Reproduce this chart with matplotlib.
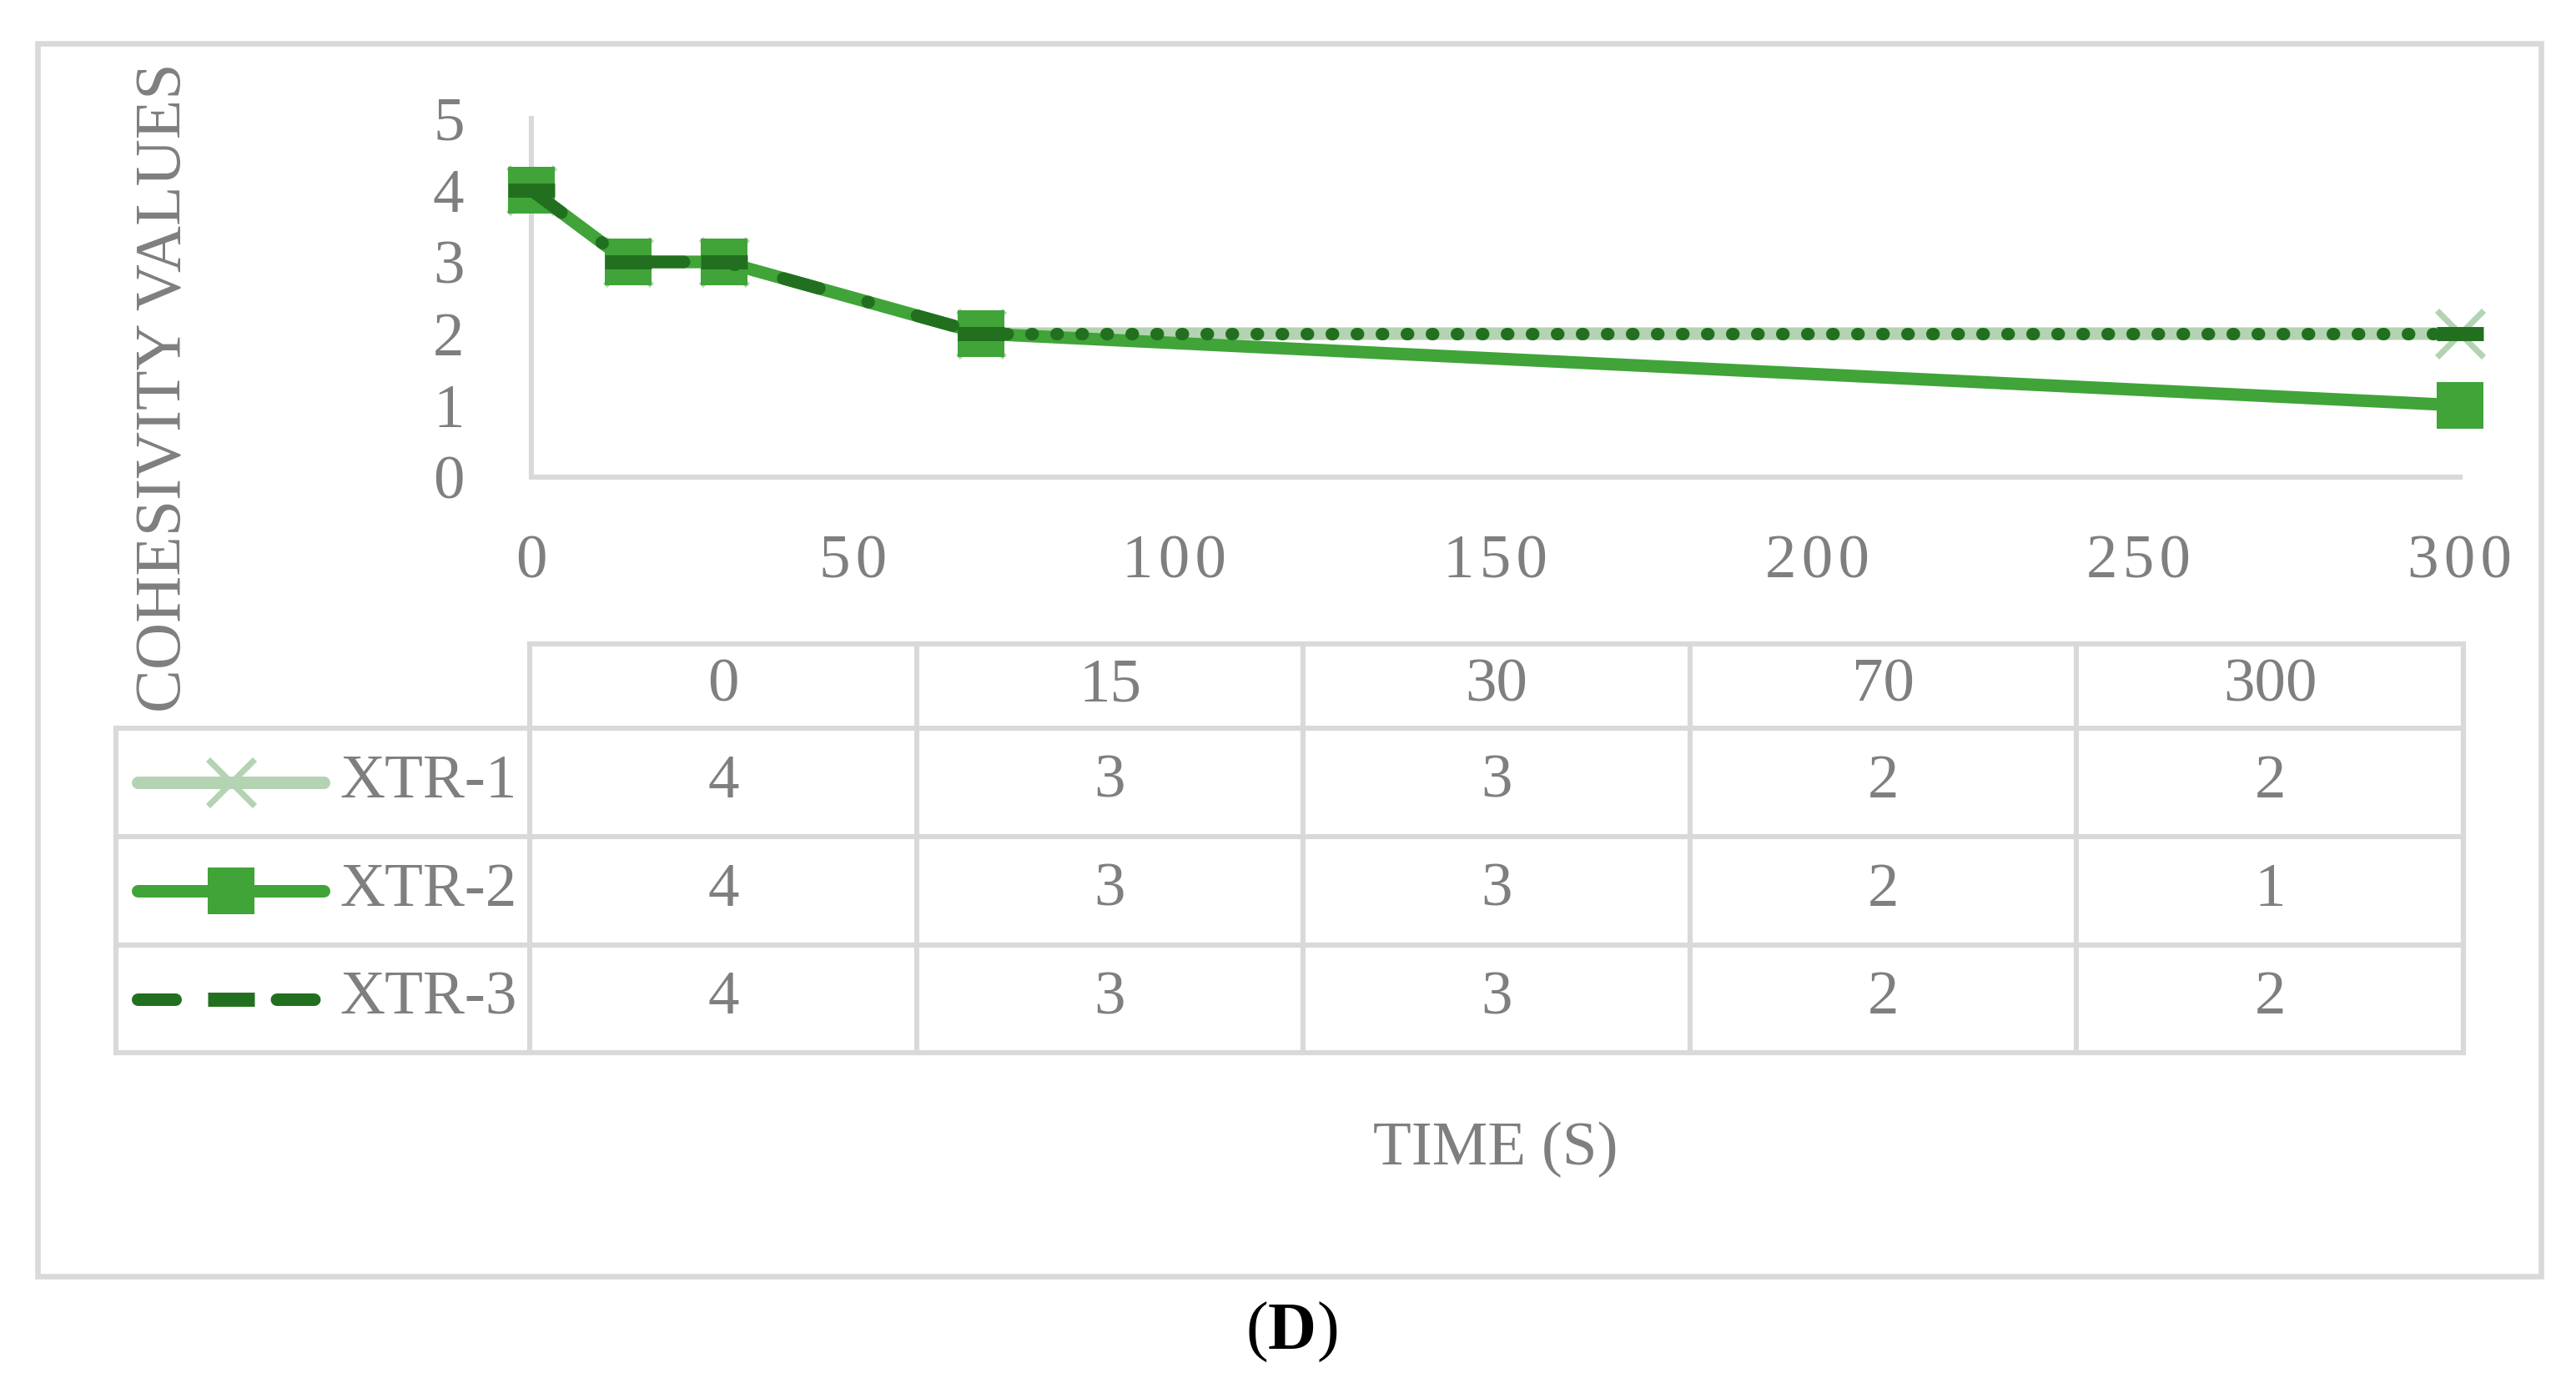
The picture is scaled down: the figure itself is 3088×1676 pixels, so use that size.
import matplotlib
matplotlib.use("Agg")
import matplotlib.pyplot as plt
from matplotlib.lines import Line2D
from matplotlib.patches import Rectangle

# data
time_s = [0, 15, 30, 70, 300]
xtr1 = [4, 3, 3, 2, 2]
xtr2 = [4, 3, 3, 2, 1]
xtr3 = [4, 3, 3, 2, 2]
series_names = ["XTR-1", "XTR-2", "XTR-3"]
y_ticks = [0, 1, 2, 3, 4, 5]
x_ticks = [0, 50, 100, 150, 200, 250, 300]

W, H = 3088, 1676
DPI = 200

c1 = "#b4d3b2"
c2 = "#40a439"
c3 = "#22701f"
grey_txt = "#7f7f7f"
grey_line = "#d9d9d9"

plt.rcParams["font.family"] = ["Liberation Serif", "DejaVu Serif"]


def fx(px):
    return px / W


def fy(py):
    return 1 - py / H


fig = plt.figure(figsize=(W / DPI, H / DPI), dpi=DPI)
fig.patch.set_facecolor("white")

lw = 5.4
style1 = dict(color=c1, lw=lw, solid_capstyle="round", marker="x", ms=20, mew=2.6)
style2 = dict(color=c2, lw=lw, solid_capstyle="round", marker="s", ms=20, mew=0, mfc=c2)
style3 = dict(color=c3, lw=lw, dash_capstyle="round", ls=(0, (3, 4, 0.1, 4)),
              marker="_", ms=20, mew=6.1)

ax = fig.add_axes([fx(637), fy(572), fx(2949) - fx(637), fy(142) - fy(572)])
ax.plot(time_s, xtr1, clip_on=False, zorder=3, **style1)
ax.plot(time_s, xtr2, clip_on=False, zorder=4, **style2)
ax.plot(time_s[:4], xtr3[:4], clip_on=False, zorder=5, **style3)
ax.plot(time_s[3:], xtr3[3:], clip_on=False, zorder=5, color=c3, lw=lw,
        dash_capstyle="round", ls=(0, (0.1, 1.9)), marker="_", ms=20, mew=6.1)

ax.set_xlim(0, 300)
ax.set_ylim(0, 5)
ax.set_xticks(x_ticks)
# the x axis numbers are a little letter-spaced in the original
ax.set_xticklabels(["\u200a".join(str(t)) for t in x_ticks])
ax.set_yticks(y_ticks)
ax.tick_params(axis="both", length=0, labelsize=27, labelcolor=grey_txt)
ax.tick_params(axis="y", pad=29)
ax.tick_params(axis="x", pad=25)
for s in ["top", "right"]:
    ax.spines[s].set_visible(False)
for s in ["left", "bottom"]:
    ax.spines[s].set_color(grey_line)
    ax.spines[s].set_linewidth(2.2)
ax.set_facecolor("none")


def fline(x0, x1, y0, y1):
    fig.add_artist(Line2D([fx(x0), fx(x1)], [fy(y0), fy(y1)], transform=fig.transFigure,
                          color=grey_line, lw=2.2, solid_capstyle="projecting"))


# outer frame
fig.add_artist(Rectangle((fx(45), fy(1530)), fx(3046) - fx(45), fy(52) - fy(1530),
                         transform=fig.transFigure, fill=False, edgecolor=grey_line, lw=2.4))

# data table under the chart
tab_left, tab_mid, tab_right = 139, 635, 2953
row_y = [772, 873, 1003, 1133, 1262]
ncol = len(time_s)
col_x = [tab_mid + i * (tab_right - tab_mid) / ncol for i in range(ncol + 1)]

fline(tab_mid, tab_right, row_y[0], row_y[0])
for y in row_y[1:]:
    fline(tab_left, tab_right, y, y)
fline(tab_left, tab_left, row_y[1], row_y[-1])
for x in col_x:
    fline(x, x, row_y[0], row_y[-1])

for i, t in enumerate(time_s):
    cx = (col_x[i] + col_x[i + 1]) / 2
    fig.text(fx(cx), fy((row_y[0] + row_y[1]) / 2), str(t), ha="center", va="center",
             fontsize=27, color=grey_txt)

all_series = [xtr1, xtr2, xtr3]
styles = [style1, style2, style3]
for r, (name, vals, st) in enumerate(zip(series_names, all_series, styles)):
    cy = (row_y[r + 1] + row_y[r + 2]) / 2
    for i, v in enumerate(vals):
        cx = (col_x[i] + col_x[i + 1]) / 2
        fig.text(fx(cx), fy(cy), str(v), ha="center", va="center", fontsize=27, color=grey_txt)
    # legend key
    key = dict(st)
    mk = {k: key.pop(k) for k in ["marker", "ms", "mew"] + (["mfc"] if "mfc" in key else [])}
    fig.add_artist(Line2D([fx(165), fx(388)], [fy(cy), fy(cy)], transform=fig.transFigure, **key))
    fig.add_artist(Line2D([fx(277)], [fy(cy)], transform=fig.transFigure, color=st["color"],
                          ls="none", **mk))
    fig.text(fx(407), fy(cy), name, ha="left", va="center", fontsize=27, color=grey_txt)

fig.text(fx(198), fy(465), "COHESIVITY VALUES", rotation=90, ha="center", va="center",
         fontsize=28, color=grey_txt)
fig.text(fx(1793), fy(1378), "TIME (S)", ha="center", va="center", fontsize=27, color=grey_txt)

# panel letter: plain brackets, bold D
fig.text(fx(1520), fy(1597), "(", ha="right", va="center", fontsize=29, color="black")
fig.text(fx(1549), fy(1597), "D", ha="center", va="center", fontsize=29, color="black",
         fontweight="bold")
fig.text(fx(1578), fy(1597), ")", ha="left", va="center", fontsize=29, color="black")

fig.savefig("out.png", dpi=DPI, facecolor="white")
